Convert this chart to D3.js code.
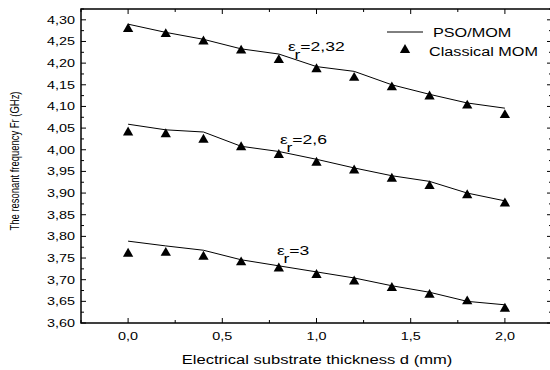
<!DOCTYPE html>
<html>
<head>
<meta charset="utf-8">
<script src="https://cdnjs.cloudflare.com/ajax/libs/d3/7.8.5/d3.min.js"></script>
<style>
  body { margin: 0; background: #fff; }
  svg { display: block; font-family: "Liberation Sans", Arial, sans-serif; }
</style>
</head>
<body>
<svg width="550" height="370"></svg>
<script>
"use strict"

// substrate thickness d (mm)
let thickness = [0.0, 0.2, 0.4, 0.6, 0.8, 1.0, 1.2, 1.4, 1.6, 1.8, 2.0]

// PSO/MOM curves (GHz)
let pso232 = [4.290, 4.271, 4.255, 4.233, 4.221, 4.192, 4.181, 4.150, 4.128, 4.108, 4.096]
let pso26 = [4.059, 4.046, 4.041, 4.008, 3.996, 3.978, 3.958, 3.940, 3.927, 3.900, 3.882]
let pso3 = [3.789, 3.778, 3.768, 3.746, 3.732, 3.718, 3.704, 3.686, 3.671, 3.650, 3.642]

// classical MOM points (GHz)
let mom232 = [4.279, 4.267, 4.250, 4.229, 4.207, 4.186, 4.166, 4.144, 4.123, 4.102, 4.080]
let mom26 = [4.040, 4.036, 4.023, 4.006, 3.988, 3.970, 3.952, 3.933, 3.916, 3.895, 3.876]
let mom3 = [3.760, 3.762, 3.753, 3.740, 3.726, 3.711, 3.696, 3.681, 3.665, 3.650, 3.633]

let curveLabels = ["2,32", "2,6", "3"]

let xTicks = [0.0, 0.5, 1.0, 1.5, 2.0]
let yTicks = d3.range(3.60, 4.3001, 0.05)

let svg = d3.select("svg"),
    margin = {top: 9, right: -2, bottom: 47, left: 81},
    width = +svg.attr("width") - margin.left - margin.right,
    height = +svg.attr("height") - margin.top - margin.bottom

let x = d3.scaleLinear().domain([-0.25, 2.25]).range([0, width])
let y = d3.scaleLinear().domain([3.60, 4.325]).range([height, 0])

let g = svg.append("g")
    .attr("transform", "translate(" + margin.left + "," + margin.top + ")")

let comma = v => d3.format(".1f")(v).replace(".", ",")
let comma2 = v => d3.format(".2f")(v).replace(".", ",")

// stretch a text horizontally, like the original figure
function widen(sel, k) {
    sel.each(function() {
	let w = this.getComputedTextLength()
	d3.select(this)
	    .attr("textLength", w * k)
	    .attr("lengthAdjust", "spacingAndGlyphs")
    })
}

let xMinor = d3.range(-0.25, 2.2501, 0.25)
let yMinor = d3.range(3.60, 4.3251, 0.025)

// frame
g.append("rect")
    .attr("width", width).attr("height", height)
    .attr("fill", "none").attr("stroke", "#000").attr("stroke-width", 1.5)

// x ticks, bottom and top, pointing inward
let xt = g.append("g").attr("stroke", "#000").attr("stroke-width", 1)
xt.selectAll(".xb").data(xMinor).enter().append("line")
    .attr("x1", d => x(d)).attr("x2", d => x(d))
    .attr("y1", height)
    .attr("y2", (d, i) => height - (i % 2 ? 5 : 3))
xt.selectAll(".xt").data(xMinor).enter().append("line")
    .attr("x1", d => x(d)).attr("x2", d => x(d))
    .attr("y1", 0)
    .attr("y2", (d, i) => (i % 2 ? 5 : 3))

// y ticks, left and right
let yt = g.append("g").attr("stroke", "#000").attr("stroke-width", 1)
yt.selectAll(".yl").data(yMinor).enter().append("line")
    .attr("y1", d => y(d)).attr("y2", d => y(d))
    .attr("x1", 0)
    .attr("x2", (d, i) => (i % 2 ? 3 : 5))
yt.selectAll(".yr").data(yMinor).enter().append("line")
    .attr("y1", d => y(d)).attr("y2", d => y(d))
    .attr("x1", width)
    .attr("x2", (d, i) => width - (i % 2 ? 3 : 5))

// tick labels
g.selectAll(".xl").data(xTicks).enter().append("text")
    .attr("x", d => x(d)).attr("y", height + 17)
    .attr("text-anchor", "middle")
    .attr("font-size", 10.5)
    .text(comma)
    .call(widen, 1.37)

g.selectAll(".ylab").data(yTicks).enter().append("text")
    .attr("x", -6).attr("y", d => y(d) + 4)
    .attr("text-anchor", "end")
    .attr("font-size", 10.5)
    .text(comma2)
    .call(widen, 1.37)

// axis titles
svg.append("text")
    .attr("x", 317).attr("y", 364)
    .attr("text-anchor", "middle")
    .attr("font-size", 12)
    .text("Electrical substrate thickness d (mm)")
    .call(widen, 1.38)

svg.append("text")
    .attr("transform", "translate(19,161) scale(1.2,1) rotate(-90)")
    .attr("text-anchor", "middle")
    .attr("font-size", 10.5)
    .attr("textLength", 139)
    .attr("lengthAdjust", "spacingAndGlyphs")
    .text("The resonant frequency  Fr (GHz)")

// curves
let line = d3.line()
    .x((d, i) => x(thickness[i]))
    .y(d => y(d))

let psoSeries = [pso232, pso26, pso3]
let momSeries = [mom232, mom26, mom3]

g.selectAll(".pso").data(psoSeries).enter().append("path")
    .attr("fill", "none").attr("stroke", "#000").attr("stroke-width", 1)
    .attr("d", line)

let tri = d3.symbol().type(d3.symbolTriangle).size(46)

momSeries.forEach(s => {
    g.selectAll(null).data(s).enter().append("path")
	.attr("transform", (d, i) => "translate(" + x(thickness[i]) + "," + y(d) + ")")
	.attr("d", tri)
	.attr("fill", "#000")
})

// epsilon labels
let labelPos = [[288, 51], [280, 144], [277, 255]]
curveLabels.forEach((lab, i) => {
    let t = svg.append("text")
	.attr("transform", "translate(" + labelPos[i][0] + "," + labelPos[i][1] + ") scale(1.35,1)")
	.attr("font-size", 13)
    t.append("tspan").text("\u03b5")
    t.append("tspan").attr("dy", 8).attr("dx", -1).text("r")
    t.append("tspan").attr("dy", -8).text("=" + lab)
})

// legend
svg.append("line")
    .attr("x1", 387).attr("x2", 423).attr("y1", 32).attr("y2", 32)
    .attr("stroke", "#000").attr("stroke-width", 1)
svg.append("text")
    .attr("x", 433).attr("y", 37)
    .attr("font-size", 12)
    .text("PSO/MOM")
    .call(widen, 1.35)
svg.append("path")
    .attr("transform", "translate(405,50)")
    .attr("d", tri).attr("fill", "#000")
svg.append("text")
    .attr("x", 429).attr("y", 56)
    .attr("font-size", 12)
    .text("Classical MOM")
    .call(widen, 1.35)
</script>
</body>
</html>
